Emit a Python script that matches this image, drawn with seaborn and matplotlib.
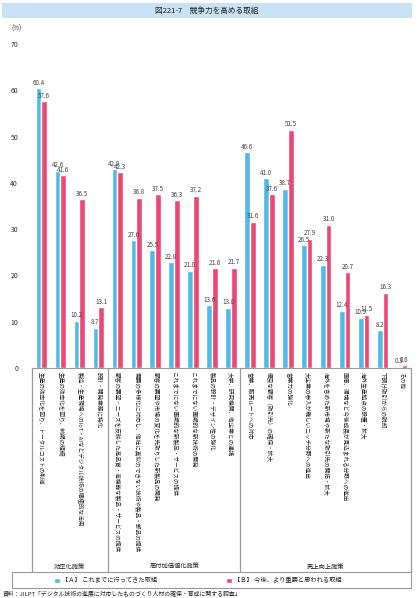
import pandas as pd
import matplotlib.pyplot as plt
import seaborn as sns
from matplotlib.patches import Rectangle

# データ
items = [
    "生産の効率化を図り、トータルコストの削減",
    "生産の効率化を図り、納期の短縮",
    "製造・生産現場へのIoT・AIなどデジタル技術の積極的な活用",
    "設計・開発業務に特化",
    "顧客の要望・ニーズを反映した高品質・高機能な製品・サービスの提供",
    "需要の多様化に対応し、他社に真似のできない技術や製品・部品の提供",
    "顧客の要望や市場の変化を先取りした新製品の開発",
    "これまでにない画期的な新製品・サービスの提供",
    "これまでにない画期的な新技術の開発",
    "製品の設計・デザイン性の強化",
    "大学、研究機関、他企業との連携",
    "営業、販売ルートへの対応",
    "優良な顧客（取引先）の確保・拡大",
    "営業力の強化",
    "大企業の参入が難しいニッチ分野への進出",
    "海外を含めた新市場や新たな取引先の開拓・拡大",
    "医療、環境など今後成長が見込まれる分野への進出",
    "海外生産拠点の設置・拡大",
    "下請け取引からの脱却",
    "その他",
]
series = ["【Ａ】 これまでに行ってきた取組", "【Ｂ】 今後、より重要と思われる取組"]
values_a = [60.4, 42.6, 10.2, 8.7, 42.9, 27.6, 25.5, 22.8, 21.0, 13.6, 13.0,
            46.6, 41.0, 38.7, 26.5, 22.3, 12.4, 10.9, 8.2, 0.3]
values_b = [57.6, 41.6, 36.5, 13.1, 42.3, 36.8, 37.5, 36.3, 37.2, 21.6, 21.7,
            31.6, 37.6, 51.5, 27.9, 31.0, 20.7, 11.5, 16.3, 0.6]
group_names = ["効率化施策", "高付加価値化施策", "売上向上施策"]
group_sizes = [4, 7, 9]
colors = ["#4fb9e8", "#ec4775"]

df = pd.DataFrame({
    "item": items * 2,
    "series": [series[0]] * len(items) + [series[1]] * len(items),
    "value": values_a + values_b,
})

sns.set_theme(style="white")
plt.rcParams["font.family"] = ["Noto Sans CJK JP", "DejaVu Sans"]

W, H = 420, 598


def fx(px):
    return px / W


def fy(py):
    return 1 - py / H


fig = plt.figure(figsize=(4.2, 5.98), dpi=100)
ax = fig.add_axes([fx(32), fy(368), fx(411) - fx(32), (368 - 44) / H])

sns.barplot(data=df, x="item", y="value", hue="series", order=items,
            hue_order=series, palette=colors, width=0.6, saturation=1, ax=ax)

for c in ax.containers:
    ax.bar_label(c, fmt="%.1f", fontsize=4.5, padding=1, color="#444444")

ax.set_ylim(0, 70)
ax.set_xlim(-0.5, len(items) - 0.5)
ax.set_yticks(range(0, 71, 10))
ax.set_xlabel("")
ax.set_ylabel("")
ax.tick_params(axis="y", length=0, pad=10, labelsize=5, labelcolor="#333333")
ax.tick_params(axis="x", length=0, pad=3, labelsize=4.1, labelrotation=270,
               labelcolor="#222222")
for s in ["left", "top", "right"]:
    ax.spines[s].set_visible(False)
ax.spines["bottom"].set_color("#999999")
ax.spines["bottom"].set_linewidth(0.8)

# 下のラベル枠と区切り線
box_bottom = -(572 - 368) / (368 - 44)
bounds = [-0.5]
for n in group_sizes:
    bounds.append(bounds[-1] + n)
for b in bounds:
    ax.axvline(b, ymin=box_bottom, ymax=0, clip_on=False, color="#999999", lw=0.9)
for i, name in enumerate(group_names):
    ax.text((bounds[i] + bounds[i + 1]) / 2, -(567 - 368) / (368 - 44), name,
            transform=ax.get_xaxis_transform(), ha="center", va="center",
            fontsize=4.5, color="#222222")

# 凡例
handles, labels = ax.get_legend_handles_labels()
ax.get_legend().remove()
fig.legend(handles, labels, loc="center", bbox_to_anchor=(fx(198), fy(580.5)),
           ncol=2, frameon=False, fontsize=4.5, handlelength=0.9,
           handleheight=0.9, columnspacing=11, handletextpad=0.4)
fig.add_artist(Rectangle((fx(12), fy(588)), fx(411) - fx(12), (588 - 572) / H,
                         transform=fig.transFigure, fill=False,
                         edgecolor="#999999", lw=0.8))

# タイトル帯
fig.add_artist(Rectangle((fx(2), fy(18)), fx(412) - fx(2), 15 / H,
                         transform=fig.transFigure, facecolor="#c9e1f5",
                         edgecolor="none"))
fig.text(fx(207), fy(10.5), "図221-7　競争力を高める取組", ha="center",
         va="center", fontsize=5.5, color="#222222")
fig.text(fx(17), fy(29), "(%)", ha="center", va="center", fontsize=4.5,
         color="#333333")
fig.text(fx(3), fy(594.5), "資料：JILPT「デジタル技術の進展に対応したものづくり人材の確保・育成に関する調査」",
         ha="left", va="center", fontsize=4.2, color="#222222")

fig.savefig("out.png", dpi=100)
